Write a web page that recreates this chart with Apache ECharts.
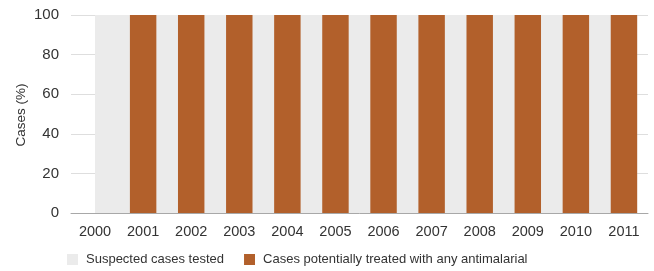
<!DOCTYPE html>
<html>
<head>
<meta charset="utf-8">
<script src="https://cdn.jsdelivr.net/npm/echarts@6/dist/echarts.min.js"></script>
<style>
html,body{margin:0;padding:0;background:#fff;}
#chart{width:654px;height:271px;}
</style>
</head>
<body>
<div id="chart"></div>
<script>
const years = ['2000','2001','2002','2003','2004','2005','2006','2007','2008','2009','2010','2011'];
const suspectedTested = [100,100,100,100,100,100,100,100,100,100,100,100];
const treatedAntimalarial = [null,100,100,100,100,100,100,100,100,100,100,100];
const yTicks = [0,20,40,60,80,100];
const yTitle = 'Cases (%)';

const FONT = '"Liberation Sans", Arial, sans-serif';
const GREY = '#ebebeb';
const ORANGE = '#b2602b';
const TEXT = '#333333';
const BAR_FRAC = 0.55;

const chart = echarts.init(document.getElementById('chart'));
chart.setOption({
  animation: false,
  grid: {left: 71, right: 6, top: 15, bottom: 58, outerBoundsMode: 'none', containLabel: false},
  graphic: [{
    type: 'text',
    x: 21, y: 115,
    rotation: Math.PI / 2,
    style: {text: yTitle, font: '13.5px ' + FONT, fill: TEXT, align: 'center', verticalAlign: 'middle'}
  }],
  legend: {
    bottom: 0, left: 62,
    itemWidth: 11, itemHeight: 11, itemGap: 20,
    icon: 'rect',
    textStyle: {fontFamily: FONT, fontSize: 13, color: TEXT, padding: [0, 0, 0, 3]},
    data: ['Suspected cases tested', 'Cases potentially treated with any antimalarial']
  },
  xAxis: {
    type: 'category',
    data: years,
    axisLine: {lineStyle: {color: '#a8a8a8', width: 1}},
    axisTick: {alignWithLabel: true, length: 5, lineStyle: {color: '#a8a8a8'}},
    axisLabel: {fontFamily: FONT, fontSize: 14.5, color: TEXT, margin: 11, interval: 0}
  },
  yAxis: {
    type: 'value', min: 0, max: 100, interval: 20,
    axisLine: {show: false}, axisTick: {show: false},
    splitLine: {lineStyle: {color: '#dedede', width: 1}},
    axisLabel: {fontFamily: FONT, fontSize: 15, color: TEXT, margin: 12,
      formatter: v => yTicks.includes(v) ? String(v) : ''}
  },
  series: [
    {
      name: 'Suspected cases tested',
      type: 'custom',
      z: 1,
      itemStyle: {color: GREY},
      data: suspectedTested.map((v, i) => [i, v]),
      encode: {x: 0, y: 1},
      renderItem: function (params, api) {
        const i = api.value(0), v = api.value(1);
        const top = api.coord([i, v]);
        const base = api.coord([i, 0]);
        const bw = api.size([1, 0])[0];
        const last = i === suspectedTested.length - 1;
        const w = last ? bw * BAR_FRAC / 2 : bw + 0.5;
        return {
          type: 'rect',
          shape: {x: top[0], y: top[1], width: w, height: base[1] - top[1]},
          style: {fill: GREY}
        };
      }
    },
    {
      name: 'Cases potentially treated with any antimalarial',
      type: 'bar',
      z: 3,
      barWidth: (BAR_FRAC * 100) + '%',
      itemStyle: {color: ORANGE},
      data: treatedAntimalarial
    }
  ]
});
</script>
</body>
</html>
